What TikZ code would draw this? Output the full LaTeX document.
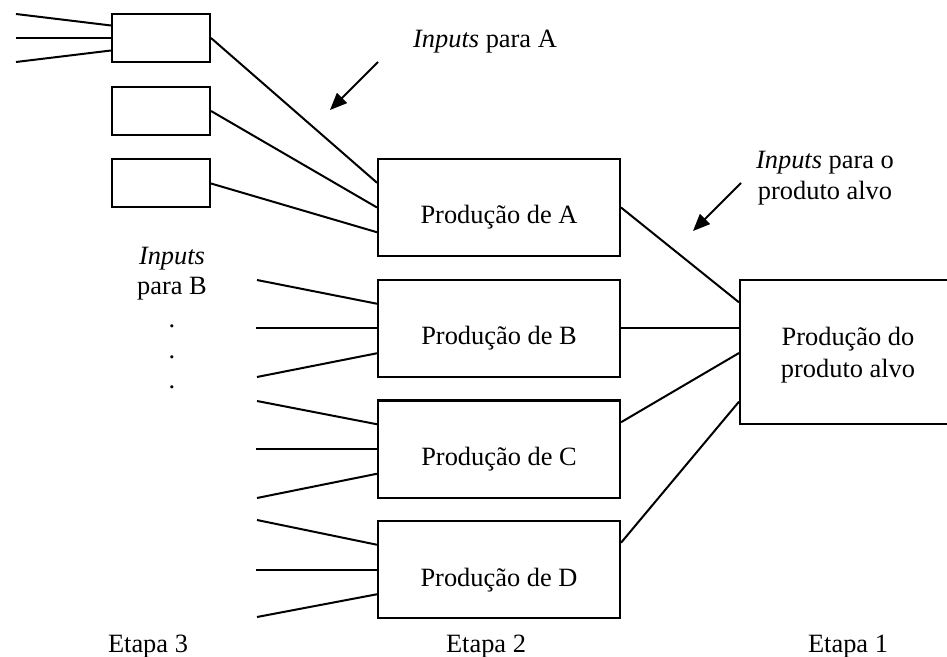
\documentclass[tikz,border=0pt]{standalone}
\usepackage{fontspec}
\setmainfont{Liberation Serif}
\usetikzlibrary{calc,arrows.meta}
\begin{document}
\begin{tikzpicture}[x=0.5pt,y=-0.5pt,
  every node/.style={font=\fontsize{13.2}{15.75}\selectfont},
  wire/.style={line width=1pt},
  pointer/.style={line width=1pt,-{Triangle[length=8.5pt,width=7pt]}},
  smallbox/.style={draw,line width=1pt,rectangle,inner sep=0pt,minimum width=49pt,minimum height=24pt},
  procbox/.style={draw,line width=1pt,rectangle,inner sep=0pt,minimum width=121pt,minimum height=48.5pt},
  targetbox/.style={draw,line width=1pt,rectangle,inner sep=0pt,minimum width=108pt,minimum height=72pt},
  caption/.style={anchor=base,inner sep=0pt},
  twoline/.style={align=center,inner sep=0pt}
]
\clip (0,0) rectangle (947,657);

% Stage 3 boxes
\node[smallbox] (s1) at (161,38) {};
\node[smallbox] (s2) at (161,111) {};
\node[smallbox] (s3) at (161,183.5) {};

% Stage 2 boxes
\node[procbox] (A) at (499,207.5) {};
\node[procbox] (B) at (499,328.5) {};
\node[procbox] (C) at (499,449) {};
\node[procbox] (D) at (499,569.5) {};
\node[caption] (Atxt) at ($(A.north)+(0,66)$) {Produção de A};
\node[caption] (Btxt) at ($(B.north)+(0,66)$) {Produção de B};
\node[caption] (Ctxt) at ($(C.north)+(0,66)$) {Produção de C};
\node[caption] (Dtxt) at ($(D.north)+(0,66)$) {Produção de D};

% Stage 1 box (runs past the right margin)
\node[targetbox] (T) at (848,352) {};
\node[twoline] (Ttxt) at (848,355) {Produção do\\produto alvo};

% inputs of the first small box
\coordinate (i1) at (16,14);
\coordinate (i2) at (16,38);
\coordinate (i3) at (16,62);
\draw[wire] (i1) -- ($(s1.north west)!0.25!(s1.south west)$);
\draw[wire] (i2) -- (s1.west);
\draw[wire] (i3) -- ($(s1.north west)!0.75!(s1.south west)$);

% small boxes feed A
\draw[wire] (s1.east) -- ($(A.north west)!0.25!(A.south west)$);
\draw[wire] (s2.east) -- (A.west);
\draw[wire] (s3.east) -- ($(A.north west)!0.75!(A.south west)$);

% loose inputs of B, C and D
\foreach \b/\t in {B/280,C/401,D/520}{
  \coordinate (\b in1) at (257,\t);
  \path (\b.west) ++(-121,0) coordinate (\b in2);
  \coordinate (\b in3) at (257,\t+97);
  \draw[wire] (\b in1) -- ($(\b.north west)!0.25!(\b.south west)$);
  \draw[wire] (\b in2) -- (\b.west);
  \draw[wire] (\b in3) -- ($(\b.north west)!0.75!(\b.south west)$);
}

% stage 2 feeds stage 1
\draw[wire] (A.east) -- ($(T.north west)!0.16!(T.south west)$);
\draw[wire] (B.east) -- (T.west |- B.east);
\draw[wire] ($(C.north east)!0.23!(C.south east)$) -- ($(T.north west)!0.507!(T.south west)$);
\draw[wire] ($(D.north east)!0.23!(D.south east)$) -- ($(T.north west)!0.84!(T.south west)$);

% annotation arrows
\coordinate (pa1) at (378,62);
\coordinate (pa2) at (330,110);
\coordinate (pt1) at (741,183);
\coordinate (pt2) at (693,231);
\draw[pointer] (pa1) -- (pa2);
\draw[pointer] (pt1) -- (pt2);

% annotations
\node[caption] (labA) at (485,48) {\textit{Inputs} para A};
\node[twoline] (labT) at (825,178) {\textit{Inputs} para o\\produto alvo};
\node[caption] (labB1) at (172,265) {\textit{Inputs}};
\node[caption] (labB2) at (172,295) {para B};
\node[caption] (dot1) at (172,328) {.};
\node[caption] (dot2) at (172,358) {.};
\node[caption] (dot3) at (172,388) {.};

% stage captions
\node[caption] (e3) at (148,652) {Etapa 3};
\node[caption] (e2) at (486,652) {Etapa 2};
\node[caption] (e1) at (848,652) {Etapa 1};
\end{tikzpicture}
\end{document}
